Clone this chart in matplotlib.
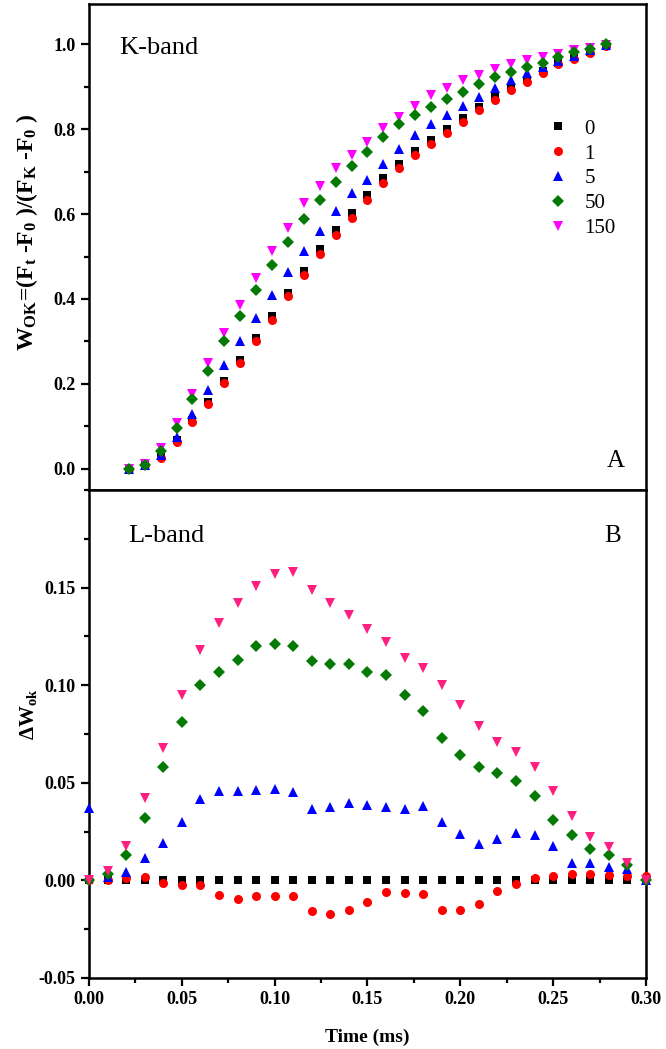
import matplotlib
matplotlib.use("Agg")
import matplotlib.pyplot as plt
from matplotlib.ticker import MultipleLocator, FixedLocator

# =============================================================================
# DATA
# =============================================================================
time_ms = [0.00, 0.01, 0.02, 0.03, 0.04, 0.05, 0.06, 0.07, 0.08, 0.09, 0.10,
           0.11, 0.12, 0.13, 0.14, 0.15, 0.16, 0.17, 0.18, 0.19, 0.20, 0.21,
           0.22, 0.23, 0.24, 0.25, 0.26, 0.27, 0.28, 0.29, 0.30]

labels = ["0", "1", "5", "50", "150"]

# Panel A: W_OK (K-band)
wok_0 = [0, 0.01, 0.03, 0.068, 0.115, 0.157, 0.207, 0.256, 0.307, 0.359, 0.414,
         0.467, 0.518, 0.563, 0.602, 0.644, 0.684, 0.717, 0.748, 0.774, 0.800,
         0.826, 0.852, 0.876, 0.898, 0.917, 0.937, 0.957, 0.970, 0.983, 0.997]
wok_1 = [0, 0.008, 0.025, 0.062, 0.109, 0.152, 0.202, 0.249, 0.300, 0.351, 0.406,
         0.457, 0.506, 0.551, 0.590, 0.633, 0.674, 0.708, 0.739, 0.765, 0.791,
         0.817, 0.845, 0.868, 0.892, 0.911, 0.933, 0.953, 0.966, 0.980, 0.995]
wok_5 = [0, 0.01, 0.033, 0.075, 0.129, 0.186, 0.245, 0.300, 0.356, 0.409, 0.464,
         0.514, 0.561, 0.608, 0.649, 0.680, 0.718, 0.753, 0.786, 0.812, 0.833,
         0.854, 0.876, 0.898, 0.915, 0.933, 0.947, 0.961, 0.972, 0.986, 0.998]
wok_50 = [0, 0.01, 0.041, 0.095, 0.164, 0.231, 0.300, 0.360, 0.420, 0.480, 0.535,
          0.588, 0.633, 0.676, 0.713, 0.747, 0.782, 0.812, 0.833, 0.853, 0.871,
          0.888, 0.906, 0.922, 0.935, 0.947, 0.956, 0.969, 0.982, 0.990, 1.0]
wok_150 = [0, 0.012, 0.049, 0.108, 0.177, 0.249, 0.319, 0.386, 0.449, 0.512, 0.568,
           0.625, 0.666, 0.708, 0.739, 0.770, 0.802, 0.829, 0.854, 0.880, 0.898,
           0.915, 0.927, 0.943, 0.953, 0.962, 0.970, 0.978, 0.986, 0.991, 0.998]

# Panel B: delta W_ok (L-band)
dw_0 = [0.0] * 31
dw_1 = [0, 0, 0.001, 0.0015, -0.0012, -0.0026, -0.0024, -0.0075, -0.0094, -0.0082,
        -0.008, -0.0082, -0.0159, -0.0171, -0.015, -0.0111, -0.006, -0.0065,
        -0.0072, -0.0154, -0.0154, -0.0123, -0.0055, -0.0016, 0.001, 0.002,
        0.0035, 0.0035, 0.003, 0.0025, 0.002]
dw_5 = [0.037, 0.0017, 0.0043, 0.0116, 0.019, 0.030, 0.0415, 0.0458, 0.0458, 0.0465,
        0.047, 0.0453, 0.0368, 0.0376, 0.0397, 0.0385, 0.0376, 0.0368, 0.038,
        0.030, 0.0236, 0.0185, 0.0214, 0.0243, 0.0231, 0.0174, 0.0089, 0.0089,
        0.0068, 0.006, 0.0]
dw_50 = [0, 0.0034, 0.0128, 0.032, 0.058, 0.081, 0.100, 0.107, 0.113, 0.120, 0.121,
         0.120, 0.1125, 0.111, 0.111, 0.107, 0.105, 0.095, 0.087, 0.073, 0.064,
         0.058, 0.055, 0.051, 0.043, 0.031, 0.023, 0.016, 0.013, 0.008, 0.0]
dw_150 = [0, 0.005, 0.0176, 0.042, 0.068, 0.095, 0.118, 0.132, 0.142, 0.151, 0.157,
          0.158, 0.149, 0.142, 0.136, 0.129, 0.122, 0.114, 0.109, 0.100, 0.090,
          0.079, 0.071, 0.066, 0.058, 0.046, 0.033, 0.022, 0.017, 0.009, 0.0]

# tick labels
a_yticks = [0.0, 0.2, 0.4, 0.6, 0.8, 1.0]
a_yticklabels = ["0.0", "0.2", "0.4", "0.6", "0.8", "1.0"]
b_xticks = [0.00, 0.05, 0.10, 0.15, 0.20, 0.25, 0.30]
b_xticklabels = ["0.00", "0.05", "0.10", "0.15", "0.20", "0.25", "0.30"]
b_yticks = [-0.05, 0.0, 0.05, 0.10, 0.15]
b_yticklabels = ["-0.05", "0.00", "0.05", "0.10", "0.15"]

# =============================================================================
# STYLE
# =============================================================================
plt.rcParams["font.family"] = ["Liberation Serif", "DejaVu Serif"]
plt.rcParams["mathtext.fontset"] = "custom"
plt.rcParams["mathtext.rm"] = "Liberation Serif:bold"
plt.rcParams["mathtext.it"] = "Liberation Serif:bold"
plt.rcParams["mathtext.bf"] = "Liberation Serif:bold"

markers = ["s", "o", "^", "D", "v"]
colors_a = ["black", "#ff0000", "#0000ff", "#047a04", "#ff00ff"]
colors_b = ["black", "#ff0000", "#0000ff", "#047a04", "#ff1f80"]
msizes = [5.5, 6.5, 7, 6, 7]
zorders_a = [3, 4, 5, 7, 6]
zorders_b = [3, 4, 5, 6, 7]

SPINE_W = 1.8
TICK_FS = 13


def style_axis(ax):
    for sp in ax.spines.values():
        sp.set_linewidth(SPINE_W)
    ax.tick_params(axis="both", which="major", direction="out", length=6,
                   width=1.6, labelsize=TICK_FS)
    ax.tick_params(axis="both", which="minor", direction="out", length=3.5,
                   width=1.6)
    ax.tick_params(top=False, right=False, which="both")


# =============================================================================
# FIGURE
# =============================================================================
fig = plt.figure(figsize=(6.66, 10.49), dpi=100)
ax_a = fig.add_axes([0.1336, 0.5329, 0.8364, 0.4633])
ax_b = fig.add_axes([0.1336, 0.0677, 0.8364, 0.4652])

# ---- Panel A ----
series_a = [wok_0, wok_1, wok_5, wok_50, wok_150]
for vals, m, c, ms, z, lab in zip(series_a, markers, colors_a, msizes, zorders_a, labels):
    ax_a.plot(time_ms, vals, linestyle="none", marker=m, color=c, markersize=ms,
              markeredgewidth=0, zorder=z, label=lab)

ax_a.set_xlim(-0.025, 0.325)
ax_a.set_ylim(-0.05, 1.095)
ax_a.set_xticks([])
ax_a.yaxis.set_major_locator(FixedLocator(a_yticks))
ax_a.yaxis.set_minor_locator(MultipleLocator(0.1))
ax_a.set_yticklabels(a_yticklabels, fontweight="bold", fontsize=TICK_FS)
style_axis(ax_a)
ax_a.set_ylabel(r"W$_{\rm OK}$=(F$_{\rm t}$ -F$_{\rm 0}$ )/(F$_{\rm K}$ -F$_{\rm 0}$ )",
                fontsize=17, fontweight="bold")
ax_a.yaxis.set_label_coords(-0.088, 0.53)

ax_a.text(0.054, 0.91, "K-band", transform=ax_a.transAxes, fontsize=19,
          ha="left", va="center")
ax_a.text(0.945, 0.06, "A", transform=ax_a.transAxes, fontsize=18,
          ha="center", va="center")

ax_a.legend(loc="upper left", bbox_to_anchor=(0.80, 0.793), frameon=False,
            fontsize=15, handlelength=0.8, handletextpad=0.9,
            labelspacing=0.25, borderpad=0.2)

# ---- Panel B ----
series_b = [dw_0, dw_1, dw_5, dw_50, dw_150]
for vals, m, c, ms, z in zip(series_b, markers, colors_b, msizes, zorders_b):
    ax_b.plot(time_ms, vals, linestyle="none", marker=m, color=c, markersize=ms,
              markeredgewidth=0, zorder=z, clip_on=False)

ax_b.set_xlim(0.0, 0.30)
ax_b.set_ylim(-0.05, 0.20)
ax_b.xaxis.set_major_locator(FixedLocator(b_xticks))
ax_b.xaxis.set_minor_locator(MultipleLocator(0.025))
ax_b.yaxis.set_major_locator(FixedLocator(b_yticks))
ax_b.yaxis.set_minor_locator(MultipleLocator(0.025))
ax_b.set_xticklabels(b_xticklabels, fontweight="bold", fontsize=TICK_FS)
ax_b.set_yticklabels(b_yticklabels, fontweight="bold", fontsize=TICK_FS)
style_axis(ax_b)
ax_b.set_xlabel("Time (ms)", fontsize=14, fontweight="bold", labelpad=15)
ax_b.set_ylabel(r"$\Delta$W$_{\rm ok}$", fontsize=15, fontweight="bold")
ax_b.yaxis.set_label_coords(-0.09, 0.54)

ax_b.text(0.07, 0.905, "L-band", transform=ax_b.transAxes, fontsize=19,
          ha="left", va="center")
ax_b.text(0.94, 0.905, "B", transform=ax_b.transAxes, fontsize=18,
          ha="center", va="center")

fig.savefig("out.png", dpi=100)
